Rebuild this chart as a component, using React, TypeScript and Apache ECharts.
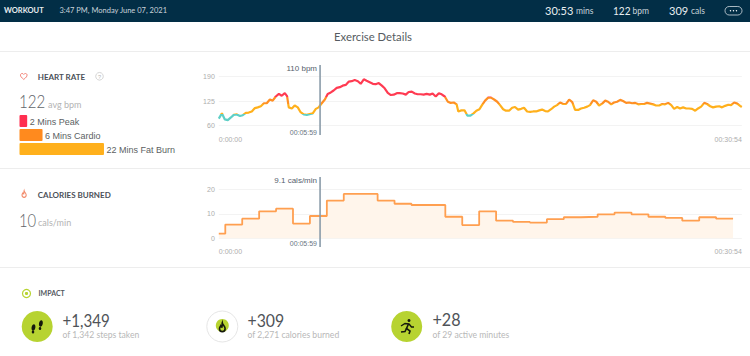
import React, { useEffect, useRef } from "react";
import * as echarts from "echarts";

const hrSeconds = [0,11,21,32,43,53,64,75,85,96,106,117,128,138,149,160,170,181,191,202,213,223,234,242,248,259,269,280,290,301,312,322,333,344,354,365,376,386,397,407,418,429,439,450,461,471,482,493,503,514,524,535,546,556,567,578,588,599,610,620,631,641,652,663,673,684,695,705,716,726,737,748,758,769,780,790,801,812,822,833,843,849,860,871,881,892,903,913,924,933,944,955,965,976,987,997,1008,1018,1029,1040,1050,1061,1072,1082,1093,1104,1114,1125,1136,1146,1157,1167,1178,1189,1199,1210,1221,1231,1242,1253,1263,1274,1284,1295,1306,1316,1327,1338,1348,1359,1370,1380,1391,1401,1412,1423,1433,1444,1455,1465,1476,1487,1497,1508,1518,1529,1540,1550,1561,1572,1582,1593,1604,1614,1625,1635,1646,1657,1667,1678,1689,1699,1710,1721,1731,1742,1752,1763,1774,1784,1795,1806,1816,1827,1838,1848,1854];
const hrBpm = [78,92,76,74,81,88,89,85,87,93,94,97,106,108,111,119,119,129,126,137,144,139,146,138,108,105,113,108,95,89,88,90,92,104,108,119,129,144,148,153,160,162,166,168,177,178,181,178,171,183,179,175,171,170,173,166,159,147,141,142,146,146,145,142,149,150,145,143,143,142,144,142,145,137,146,143,137,123,120,121,116,97,100,100,86,86,92,99,103,114,126,134,134,129,123,114,103,99,99,107,109,102,104,107,97,96,97,97,100,102,98,97,103,110,114,121,117,117,129,122,101,101,105,107,110,114,127,123,113,118,126,123,116,121,123,128,125,120,121,119,120,116,117,117,120,118,116,113,113,117,116,120,114,104,109,105,108,105,105,104,99,105,110,120,117,111,108,110,111,108,112,115,114,121,118,112,109];
const calSeconds = [0,23,83,143,203,263,323,383,443,503,563,623,683,743,803,863,923,983,1043,1103,1163,1223,1283,1343,1403,1463,1523,1583,1643,1703,1763,1823];
const calValues = [1.9,5.6,8,11,12.1,6,9.1,15.4,18.1,18.1,15.4,14.1,13.6,13.6,8.8,5.4,11,7.2,6.7,6.4,7.8,8.6,8.8,9.8,10.5,9.8,8.8,8.3,7.2,8.6,8,8];
const totalSeconds = 1854;
const cursorSeconds = 359;
const hrTicks = [60, 125, 190];
const calTicks = [0, 10, 20];
const zoneMinutes = [2, 6, 22];
const zoneLabels = ["2 Mins Peak", "6 Mins Cardio", "22 Mins Fat Burn"];
const zoneColors = ["#ff2f50", "#ff8a1e", "#ffb01c"];

const ARIAL = "'Liberation Sans', Arial, sans-serif";
const LATO = "Lato, sans-serif";
const hms = (v: number) => (v === 0 ? "0:00:00" : "00:30:54");

const txt = (x: number, y: number, text: string, size: number, fill: string, fontWeight: any = 400, font = LATO, align = "left", scaleX = 1) => ({
  type: "text", x, y, scaleX, silent: true,
  style: { text, fontSize: size, fill, fontWeight, fontFamily: font, align, verticalAlign: "middle" },
});
const rule = (y: number) => ({ type: "line", silent: true, shape: { x1: 0, y1: y, x2: 750, y2: y }, style: { stroke: "#ededed", lineWidth: 1 } });

export default function App() {
  const ref = useRef<HTMLDivElement>(null);
  useEffect(() => {
    document.body.style.margin = "0";
    echarts.graphic.registerShape("heartIcon", echarts.graphic.extendPath("M12 21 C5 15 2 12 2 8 C2 5 4 3 7 3 C9 3 11 4 12 6 C13 4 15 3 17 3 C20 3 22 5 22 8 C22 12 19 15 12 21Z", {}));
    echarts.graphic.registerShape("flameIcon", echarts.graphic.extendPath("M12 2 C13 7 19 10 19 16 C19 20 16 23 12 23 C8 23 5 20 5 16 C5 13 7 11 8 9 C9 11 10 12 11 12 C12 9 11 5 12 2Z", {}));
    const chart = echarts.init(ref.current!, undefined, { renderer: "svg" });

    const xAxisBase = (gridIndex: number, margin: number) => ({
      type: "value", gridIndex, min: 0, max: totalSeconds,
      axisLine: { show: false }, axisTick: { show: false }, splitLine: { show: false },
      axisLabel: {
        customValues: [0, totalSeconds], formatter: hms, margin, fontSize: 7, color: "#adadad",
        fontFamily: ARIAL, alignMinLabel: "left", alignMaxLabel: "right",
      },
    });
    const yAxisBase = (gridIndex: number, min: number, max: number, interval: number, ticks: number[]) => ({
      type: "value", gridIndex, min, max, interval,
      axisLine: { show: false }, axisTick: { show: false },
      splitLine: { show: true, showMinLine: false, showMaxLine: false, lineStyle: { color: "#f3f3f3", width: 1 } },
      axisLabel: {
        margin: 4, fontSize: 7, color: "#adadad", fontFamily: ARIAL,
        formatter: (v: number) => (ticks.includes(v) ? String(v) : ""),
      },
    });
    const cursor = (xAxisIndex: number, lo: number, hi: number) => ({
      type: "line", xAxisIndex, yAxisIndex: xAxisIndex, data: [[cursorSeconds, lo], [cursorSeconds, hi]],
      showSymbol: false, silent: true, lineStyle: { color: "#8a9ca9", width: 1.6 }, z: 5,
    });

    chart.setOption({
      animation: false,
      backgroundColor: "#ffffff",
      grid: [
        { left: 218.8, width: 523, top: 52.4, height: 97.2 },
        { left: 218.8, width: 523, top: 164.8, height: 98 },
      ],
      xAxis: [xAxisBase(0, -14), xAxisBase(1, -15)],
      yAxis: [yAxisBase(0, -5, 255, 65, hrTicks), yAxisBase(1, -10, 30, 10, calTicks)],
      visualMap: [{
        show: false, type: "piecewise", seriesIndex: 0, dimension: 1,
        pieces: [
          { lt: 90, color: "#5fcfc6" },
          { gte: 90, lt: 118, color: "#ffb01c" },
          { gte: 118, lt: 136, color: "#ff8f24" },
          { gte: 136, color: "#ff3b52" },
        ],
      }],
      series: [
        {
          type: "line", xAxisIndex: 0, yAxisIndex: 0, showSymbol: false, silent: true,
          data: hrSeconds.map((t, i) => [t, hrBpm[i]]), lineStyle: { width: 2.2 },
        },
        {
          type: "line", xAxisIndex: 1, yAxisIndex: 1, showSymbol: false, silent: true, step: "end",
          data: calSeconds.map((t, i) => [t, calValues[i]]),
          lineStyle: { width: 1.8, color: "#ff9f50" }, itemStyle: { color: "#ff9f50" },
          areaStyle: { color: "#fff5eb", opacity: 1, origin: 0 },
        },
        cursor(0, 34, 221),
        cursor(1, -3.6, 25),
      ],
      graphic: [{
        type: "group", silent: true, children: [
          { type: "rect", shape: { x: 0, y: 0, width: 750, height: 22 }, style: { fill: "#022e46" } },
          txt(4, 10.5, "WORKOUT", 7.5, "#e8edf0", 700),
          txt(59.5, 10.5, "3:47 PM, Monday June 07, 2021", 7.5, "#c9d3da"),
          txt(545, 10.5, "30:53", 12, "#e8edf0", 400, LATO, "left", 0.92),
          txt(576, 11, "mins", 8.5, "#c9d3da"),
          txt(613, 10.5, "122", 12, "#e8edf0", 400, LATO, "left", 0.84),
          txt(632.5, 11, "bpm", 8.5, "#c9d3da"),
          txt(669, 10.5, "309", 12, "#e8edf0", 400, LATO, "left", 0.92),
          txt(691, 11, "cals", 8.5, "#c9d3da"),
          { type: "rect", shape: { x: 725, y: 6.5, width: 17, height: 8.5, r: 4.2 }, style: { fill: "none", stroke: "#d5dde2", lineWidth: 0.8 } },
          { type: "circle", shape: { cx: 730.5, cy: 10.7, r: 0.7 }, style: { fill: "#e8edf0" } },
          { type: "circle", shape: { cx: 733.5, cy: 10.7, r: 0.7 }, style: { fill: "#e8edf0" } },
          { type: "circle", shape: { cx: 736.5, cy: 10.7, r: 0.7 }, style: { fill: "#e8edf0" } },

          txt(373, 36.5, "Exercise Details", 11.3, "#555b61", 400, LATO, "center"),
          rule(51.5), rule(168.5), rule(267.5),

          { type: "heartIcon", x: 19.8, y: 72.5, scaleX: 0.33, scaleY: 0.33, style: { fill: "none", stroke: "#f28377", lineWidth: 3 } },
          txt(37.8, 76.5, "HEART RATE", 8, "#4b5058", 700),
          { type: "circle", shape: { cx: 99.5, cy: 76.3, r: 3.8 }, style: { fill: "none", stroke: "#c9c9c9", lineWidth: 0.8 } },
          txt(99.5, 76.5, "?", 5.5, "#b5b5b5", 400, ARIAL, "center"),
          txt(19, 101, "122", 18.5, "#62666a", 300, LATO, "left", 0.82),
          txt(48, 104, "avg bpm", 9, "#b3b3b3"),
          ...zoneMinutes.flatMap((m, i) => {
            const width = m * 3.84;
            const y = 115 + i * 14;
            return [
              { type: "rect", shape: { x: 19.5, y, width, height: 12, r: 1 }, style: { fill: zoneColors[i] } },
              txt(19.5 + width + 2.5, y + 7, zoneLabels[i], 9, "#5c5f63", 400, ARIAL),
            ];
          }),

          txt(317, 68.5, "110 bpm", 8, "#55616d", 400, ARIAL, "right"),
          txt(317, 132.5, "00:05:59", 7, "#6a7682", 400, ARIAL, "right"),
          txt(317, 180.5, "9.1 cals/min", 8, "#55616d", 400, ARIAL, "right"),
          txt(317, 243.5, "00:05:59", 7, "#6a7682", 400, ARIAL, "right"),

          { type: "flameIcon", x: 20.5, y: 190, scaleX: 0.3, scaleY: 0.32, style: { fill: "none", stroke: "#f28a6a", lineWidth: 3.5 } },
          txt(37.8, 194.5, "CALORIES BURNED", 8, "#4b5058", 700),
          txt(19, 219.5, "10", 18.5, "#62666a", 300, LATO, "left", 0.8),
          txt(38, 222.5, "cals/min", 9, "#b3b3b3"),

          { type: "circle", shape: { cx: 26.5, cy: 293.5, r: 4 }, style: { fill: "none", stroke: "#b7d331", lineWidth: 1.2 } },
          { type: "circle", shape: { cx: 26.5, cy: 293.5, r: 1.6 }, style: { fill: "#b7d331" } },
          txt(38.5, 292.5, "IMPACT", 7, "#55595f", 700),

          { type: "circle", shape: { cx: 37.2, cy: 326.5, r: 15.5 }, style: { fill: "#b7d331" } },
          { type: "ellipse", shape: { cx: 33.6, cy: 327.5, rx: 1.9, ry: 3.4 }, rotation: -0.2, originX: 33.6, originY: 327.5, style: { fill: "#15180c" } },
          { type: "ellipse", shape: { cx: 33, cy: 332, rx: 1.3, ry: 1.5 }, style: { fill: "#15180c" } },
          { type: "ellipse", shape: { cx: 41, cy: 323.5, rx: 1.9, ry: 3.4 }, rotation: -0.2, originX: 41, originY: 323.5, style: { fill: "#15180c" } },
          { type: "ellipse", shape: { cx: 40, cy: 328.5, rx: 1.3, ry: 1.5 }, style: { fill: "#15180c" } },
          txt(62.5, 320, "+1,349", 17, "#4f5358", 400, LATO, "left", 0.89),
          txt(62.5, 335, "of 1,342 steps taken", 8.6, "#b8b8b8"),

          { type: "circle", shape: { cx: 222.3, cy: 326.5, r: 15.5 }, style: { fill: "#ffffff", stroke: "#e6e6e6", lineWidth: 1 } },
          { type: "circle", shape: { cx: 222.3, cy: 325.5, r: 6.5 }, style: { fill: "#b7d331" } },
          { type: "flameIcon", x: 217.5, y: 322, scaleX: 0.4, scaleY: 0.42, style: { fill: "none", stroke: "#15180c", lineWidth: 4 } },
          txt(247.5, 320, "+309", 17, "#4f5358", 400, LATO, "left", 0.93),
          txt(247.5, 335, "of 2,271 calories burned", 8.6, "#b8b8b8"),

          { type: "circle", shape: { cx: 406.7, cy: 326.5, r: 15.5 }, style: { fill: "#b7d331" } },
          { type: "circle", shape: { cx: 409, cy: 320.5, r: 1.5 }, style: { fill: "#15180c" } },
          { type: "polyline", shape: { points: [[401, 326], [405, 323.5], [409, 324], [411.5, 327], [414, 327]] }, style: { fill: "none", stroke: "#15180c", lineWidth: 1.4 } },
          { type: "polyline", shape: { points: [[408.5, 324], [406.5, 328.5], [410, 331], [409, 334]] }, style: { fill: "none", stroke: "#15180c", lineWidth: 1.6 } },
          { type: "polyline", shape: { points: [[406.5, 328.5], [405, 331.5], [401, 332]] }, style: { fill: "none", stroke: "#15180c", lineWidth: 1.6 } },
          txt(432.5, 320, "+28", 17, "#4f5358", 400, LATO, "left", 0.95),
          txt(432.5, 335, "of 29 active minutes", 8.6, "#b8b8b8"),
        ],
      }],
    });
    return () => chart.dispose();
  }, []);
  return <div ref={ref} style={{ width: 750, height: 356 }} />;
}
